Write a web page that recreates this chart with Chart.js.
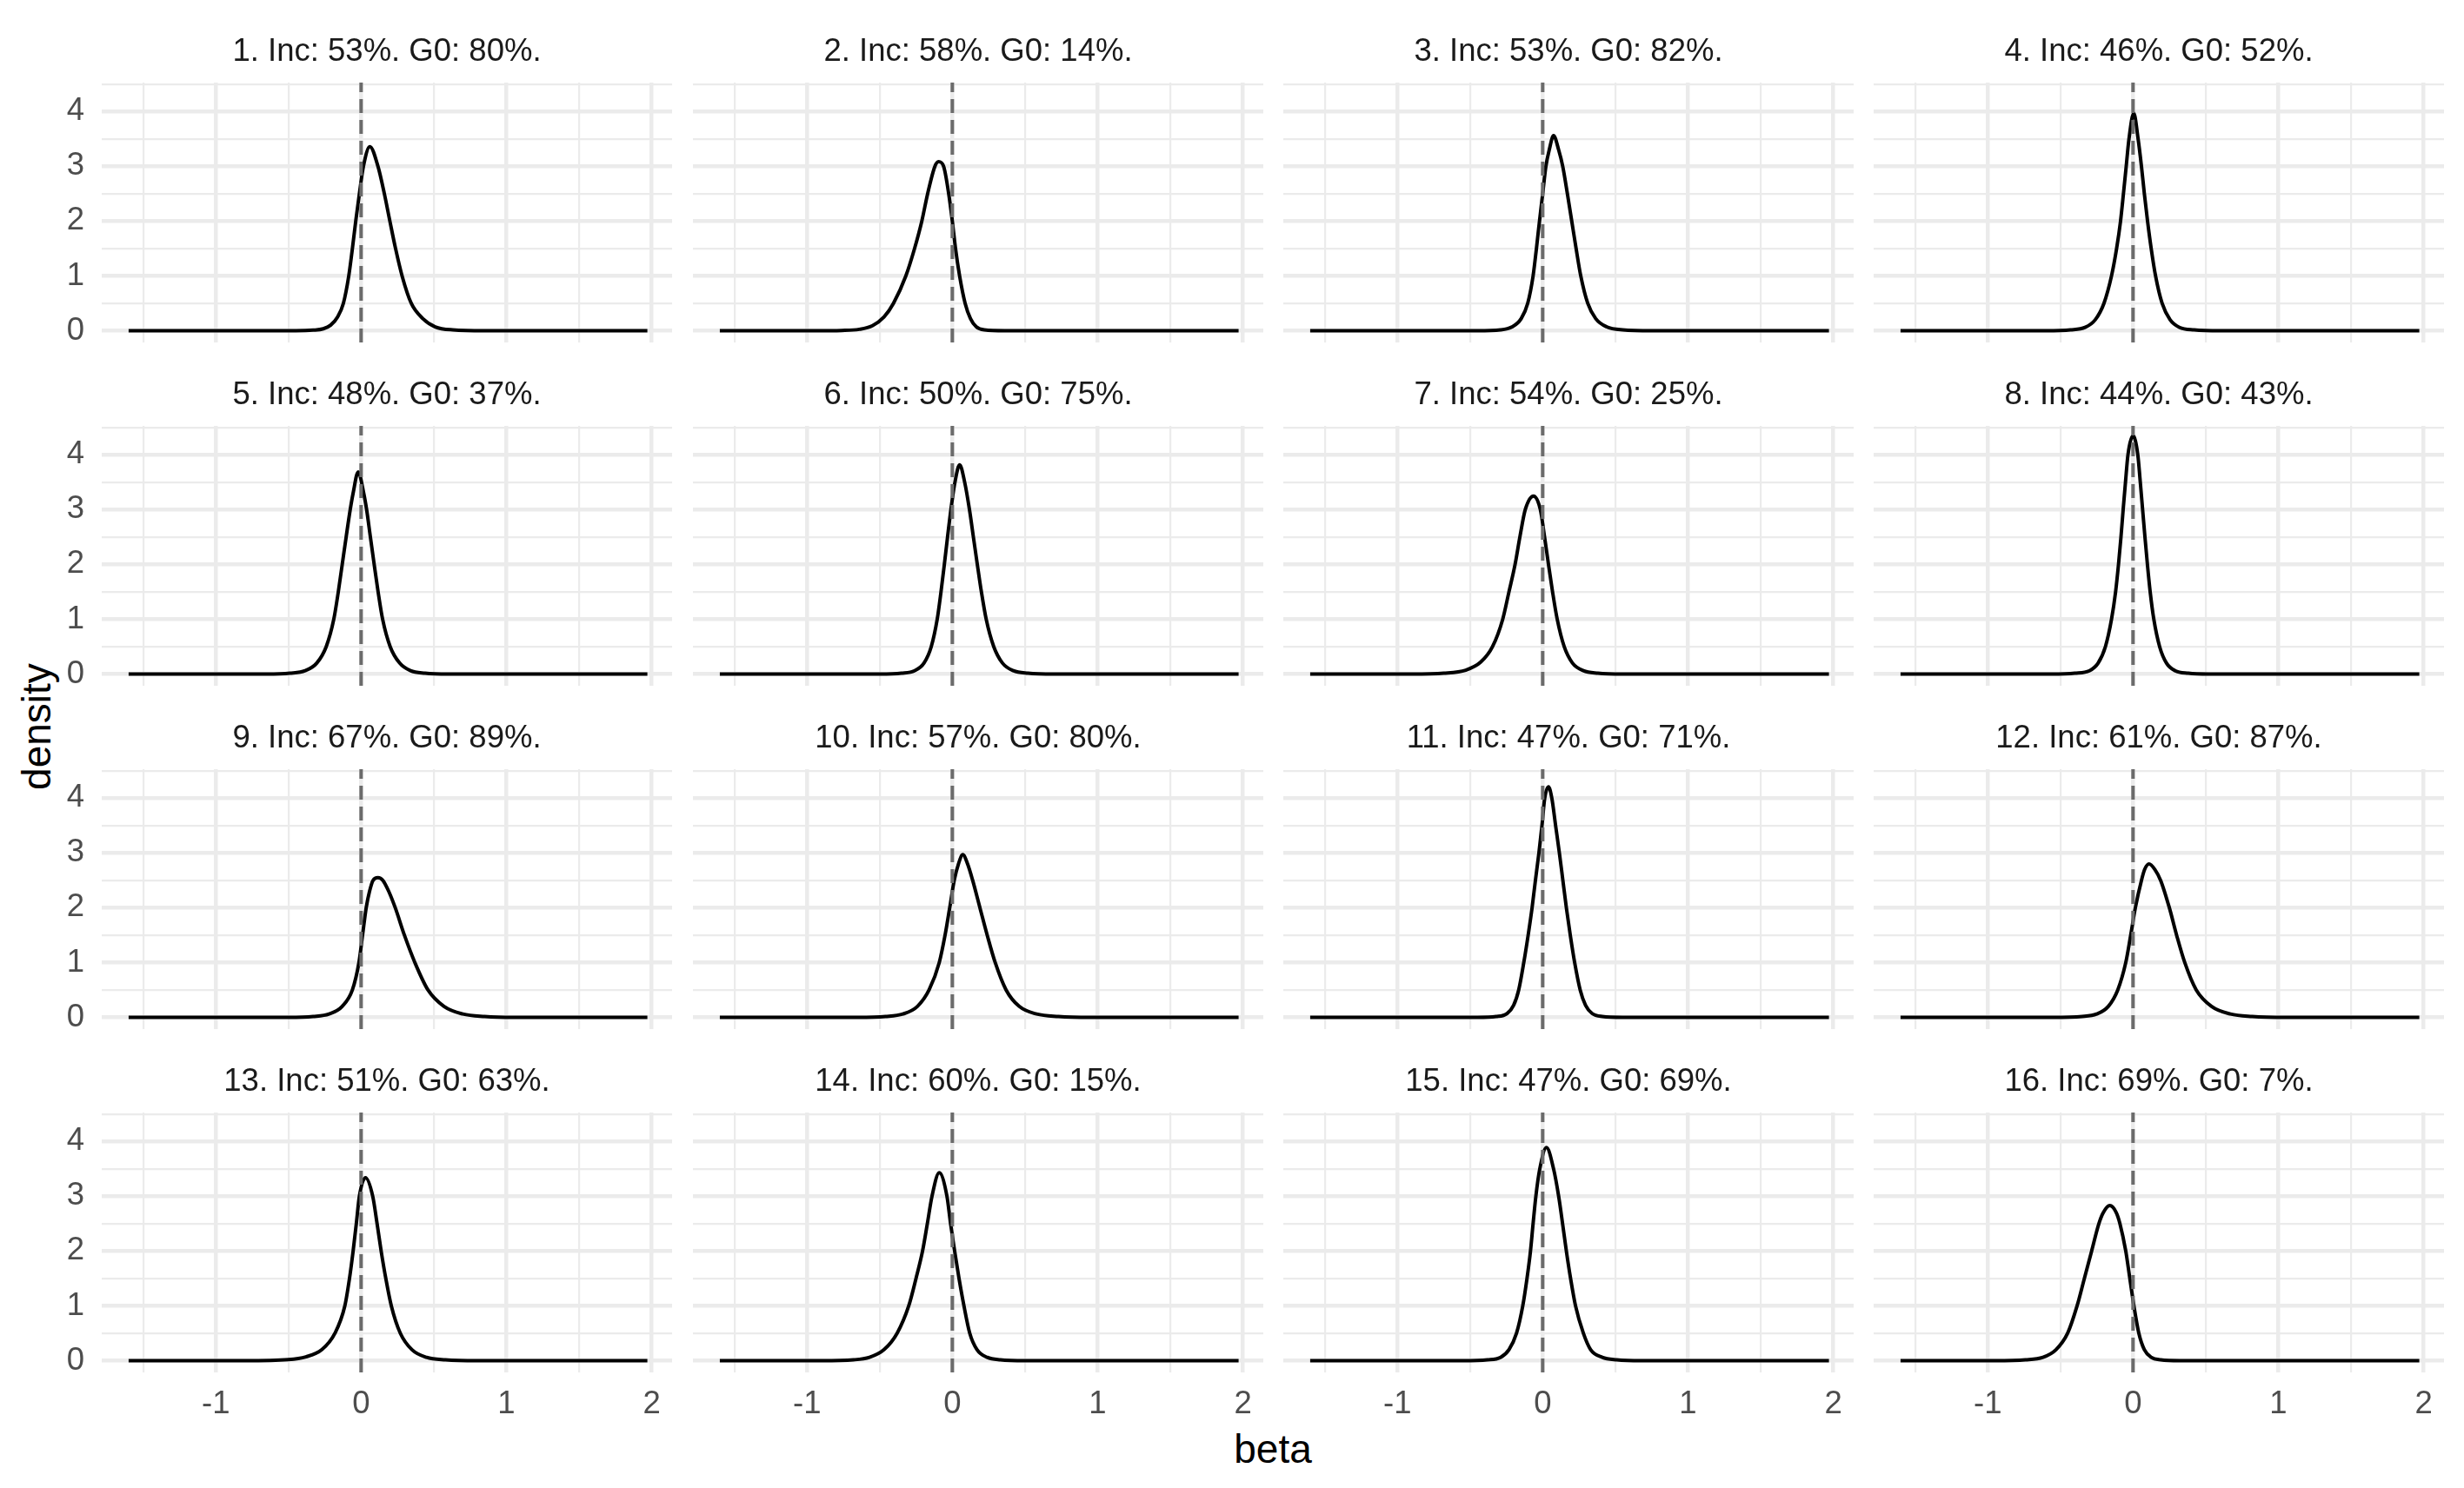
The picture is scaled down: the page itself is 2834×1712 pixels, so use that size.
<!DOCTYPE html>
<html lang="en">
<head>
<meta charset="UTF-8">
<title>Posterior densities of beta</title>
<script src="https://cdn.jsdelivr.net/npm/chart.js"></script>
<style>
  body { margin: 0; background: #fff; }
  #page { position: relative; width: 2834px; height: 1712px; overflow: hidden; font-family: 'Liberation Sans', Arial, sans-serif; }
  #page canvas { position: absolute; }
  .axis-title { position: absolute; font-size: 46px; color: #000; white-space: nowrap; line-height: 1; }
  #xlab { left: 1464px; top: 1667px; transform: translate(-50%, -50%); }
  #ylab { left: 42px; top: 836px; transform: translate(-50%, -50%) rotate(-90deg); }
</style>
</head>
<body>
<div id="page">
  <div class="axis-title" id="xlab">beta</div>
  <div class="axis-title" id="ylab">density</div>
</div>
<script>
// tick labels
const betaTicks = [-1, 0, 1, 2];
const densityTicks = [0, 1, 2, 3, 4];

// panel headers
const incPct = [53, 58, 53, 46, 48, 50, 54, 44, 67, 57, 47, 61, 51, 60, 47, 69];
const g0Pct  = [80, 14, 82, 52, 37, 75, 25, 43, 89, 80, 71, 87, 63, 15, 69, 7];

// density curves, [beta, density]
const curve1 = [[-1.6,0],[-0.45,0],[-0.33,0.01],[-0.26,0.035],[-0.21,0.1],[-0.162,0.25],[-0.122,0.5],[-0.085,1.0],[-0.06,1.5],[-0.037,2.0],[-0.012,2.5],[0.016,3.0],[0.06,3.36],[0.116,3.0],[0.16,2.5],[0.198,2.0],[0.237,1.5],[0.282,1.0],[0.345,0.5],[0.425,0.22],[0.51,0.07],[0.63,0.015],[0.85,0],[1.97,0]];
const curve2 = [[-1.6,0],[-0.95,0],[-0.76,0.005],[-0.64,0.025],[-0.55,0.09],[-0.47,0.25],[-0.405,0.5],[-0.32,1.0],[-0.26,1.5],[-0.21,2.0],[-0.17,2.5],[-0.12,3.0],[-0.095,3.085],[-0.06,3.0],[-0.025,2.5],[0.0,2.0],[0.022,1.5],[0.05,1.0],[0.088,0.5],[0.125,0.22],[0.165,0.07],[0.22,0.015],[0.36,0],[1.97,0]];
const curve3 = [[-1.6,0],[-0.45,0],[-0.29,0.015],[-0.21,0.07],[-0.148,0.22],[-0.103,0.5],[-0.066,1.0],[-0.043,1.5],[-0.022,2.0],[0.0,2.5],[0.022,3.0],[0.045,3.3],[0.075,3.56],[0.11,3.3],[0.138,3.0],[0.17,2.5],[0.2,2.0],[0.23,1.5],[0.262,1.0],[0.31,0.5],[0.365,0.22],[0.44,0.07],[0.55,0.015],[0.75,0],[1.97,0]];
const curve4 = [[-1.6,0],[-0.6,0],[-0.43,0.015],[-0.33,0.06],[-0.26,0.2],[-0.2,0.5],[-0.148,1.0],[-0.113,1.5],[-0.086,2.0],[-0.066,2.5],[-0.047,3.0],[-0.028,3.5],[0.005,3.97],[0.035,3.5],[0.058,3.0],[0.078,2.5],[0.1,2.0],[0.125,1.5],[0.155,1.0],[0.2,0.5],[0.255,0.2],[0.32,0.06],[0.42,0.015],[0.6,0],[1.97,0]];
const curve5 = [[-1.6,0],[-0.65,0],[-0.49,0.015],[-0.385,0.06],[-0.305,0.2],[-0.24,0.5],[-0.188,1.0],[-0.157,1.5],[-0.13,2.0],[-0.103,2.5],[-0.075,3.0],[-0.055,3.3],[-0.02,3.69],[0.018,3.3],[0.038,3.0],[0.064,2.5],[0.09,2.0],[0.117,1.5],[0.148,1.0],[0.2,0.5],[0.265,0.2],[0.34,0.06],[0.44,0.015],[0.6,0],[1.97,0]];
const curve6 = [[-1.6,0],[-0.5,0],[-0.35,0.015],[-0.26,0.06],[-0.195,0.2],[-0.145,0.5],[-0.104,1.0],[-0.078,1.5],[-0.055,2.0],[-0.033,2.5],[-0.01,3.0],[0.018,3.5],[0.05,3.82],[0.085,3.5],[0.118,3.0],[0.145,2.5],[0.172,2.0],[0.2,1.5],[0.233,1.0],[0.285,0.5],[0.345,0.2],[0.42,0.06],[0.52,0.015],[0.7,0],[1.97,0]];
const curve7 = [[-1.6,0],[-0.9,0],[-0.68,0.015],[-0.53,0.07],[-0.425,0.22],[-0.345,0.5],[-0.275,1.0],[-0.232,1.5],[-0.19,2.0],[-0.157,2.5],[-0.12,3.0],[-0.063,3.25],[-0.016,3.0],[0.013,2.5],[0.04,2.0],[0.068,1.5],[0.1,1.0],[0.148,0.5],[0.205,0.2],[0.28,0.06],[0.38,0.015],[0.55,0],[1.97,0]];
const curve8 = [[-1.6,0],[-0.56,0],[-0.4,0.015],[-0.3,0.06],[-0.24,0.2],[-0.19,0.5],[-0.148,1.0],[-0.12,1.5],[-0.1,2.0],[-0.083,2.5],[-0.068,3.0],[-0.052,3.5],[-0.035,4.0],[0.0,4.35],[0.033,4.0],[0.05,3.5],[0.066,3.0],[0.082,2.5],[0.099,2.0],[0.118,1.5],[0.143,1.0],[0.183,0.5],[0.23,0.2],[0.29,0.06],[0.38,0.015],[0.52,0],[1.97,0]];
const curve9 = [[-1.6,0],[-0.5,0],[-0.33,0.015],[-0.22,0.06],[-0.13,0.2],[-0.06,0.5],[-0.015,1.0],[0.01,1.5],[0.035,2.0],[0.058,2.3],[0.082,2.5],[0.116,2.55],[0.15,2.5],[0.19,2.3],[0.235,2.0],[0.298,1.5],[0.37,1.0],[0.46,0.5],[0.57,0.2],[0.7,0.06],[0.85,0.015],[1.05,0],[1.97,0]];
const curve10 = [[-1.6,0],[-0.65,0],[-0.46,0.015],[-0.34,0.06],[-0.24,0.2],[-0.16,0.5],[-0.09,1.0],[-0.05,1.5],[-0.018,2.0],[0.013,2.5],[0.042,2.8],[0.072,2.97],[0.105,2.8],[0.14,2.5],[0.19,2.0],[0.24,1.5],[0.295,1.0],[0.37,0.5],[0.46,0.2],[0.58,0.06],[0.73,0.015],[0.95,0],[1.97,0]];
const curve11 = [[-1.6,0],[-0.45,0],[-0.32,0.015],[-0.245,0.07],[-0.2,0.22],[-0.165,0.5],[-0.13,1.0],[-0.1,1.5],[-0.073,2.0],[-0.05,2.5],[-0.026,3.0],[-0.005,3.5],[0.014,4.0],[0.04,4.21],[0.063,4.0],[0.089,3.5],[0.115,3.0],[0.139,2.5],[0.163,2.0],[0.19,1.5],[0.22,1.0],[0.258,0.5],[0.295,0.22],[0.34,0.07],[0.41,0.015],[0.55,0],[1.97,0]];
const curve12 = [[-1.6,0],[-0.55,0],[-0.35,0.015],[-0.25,0.06],[-0.17,0.2],[-0.105,0.5],[-0.05,1.0],[-0.016,1.5],[0.016,2.0],[0.058,2.5],[0.08,2.7],[0.11,2.8],[0.15,2.7],[0.19,2.5],[0.25,2.0],[0.3,1.5],[0.356,1.0],[0.435,0.5],[0.54,0.2],[0.67,0.06],[0.82,0.015],[1.05,0],[1.97,0]];
const curve13 = [[-1.6,0],[-0.8,0],[-0.5,0.02],[-0.38,0.07],[-0.27,0.2],[-0.18,0.5],[-0.112,1.0],[-0.08,1.5],[-0.055,2.0],[-0.033,2.5],[-0.012,3.0],[0.03,3.34],[0.08,3.0],[0.11,2.5],[0.138,2.0],[0.17,1.5],[0.208,1.0],[0.27,0.5],[0.35,0.2],[0.45,0.06],[0.58,0.015],[0.8,0],[1.97,0]];
const curve14 = [[-1.6,0],[-0.9,0],[-0.68,0.015],[-0.57,0.06],[-0.47,0.2],[-0.38,0.5],[-0.3,1.0],[-0.25,1.5],[-0.205,2.0],[-0.172,2.5],[-0.14,3.0],[-0.09,3.43],[-0.037,3.0],[-0.012,2.5],[0.016,2.0],[0.046,1.5],[0.08,1.0],[0.12,0.5],[0.17,0.2],[0.24,0.06],[0.33,0.015],[0.5,0],[1.97,0]];
const curve15 = [[-1.6,0],[-0.55,0],[-0.38,0.015],[-0.29,0.06],[-0.232,0.2],[-0.18,0.5],[-0.137,1.0],[-0.108,1.5],[-0.084,2.0],[-0.066,2.5],[-0.047,3.0],[-0.02,3.5],[0.026,3.89],[0.075,3.5],[0.11,3.0],[0.137,2.5],[0.163,2.0],[0.192,1.5],[0.226,1.0],[0.28,0.5],[0.33,0.2],[0.41,0.06],[0.51,0.015],[0.68,0],[1.97,0]];
const curve16 = [[-1.6,0],[-0.95,0],[-0.74,0.015],[-0.62,0.06],[-0.53,0.2],[-0.45,0.5],[-0.385,1.0],[-0.335,1.5],[-0.285,2.0],[-0.235,2.5],[-0.205,2.7],[-0.16,2.83],[-0.115,2.7],[-0.09,2.5],[-0.05,2.0],[-0.022,1.5],[0.006,1.0],[0.04,0.5],[0.078,0.2],[0.125,0.06],[0.19,0.015],[0.32,0],[1.97,0]];

const curves = [curve1, curve2, curve3, curve4, curve5, curve6, curve7, curve8,
                curve9, curve10, curve11, curve12, curve13, curve14, curve15, curve16];

// shared axis limits (ggplot's 5% expansion)
const xLim = [-1.785, 2.14];
const yLim = [-0.215, 4.53];

// facet geometry, page pixels
const colLeft = [117, 797, 1476, 2155];
const rowTop = [95, 490, 885, 1280];
const plotW = 656, plotH = 299;
const titleH = 94, yAxisW = 117, xAxisH = 70;

Chart.defaults.font.family = "'Liberation Sans', Arial, sans-serif";
Chart.defaults.animation = false;

const page = document.getElementById('page');
const isWhole = v => Math.abs(v - Math.round(v)) < 1e-9;
const gridWidth = c => isWhole(c.tick.value) ? 4.5 : 2.2;

function makePanel(k) {
	const col = k % 4, row = Math.floor(k / 4);
	const yW = col === 0 ? yAxisW : 0;
	const xH = row === 3 ? xAxisH : 0;
	const w = yW + plotW, h = titleH + plotH + xH;

	const canvas = document.createElement('canvas');
	canvas.width = w;
	canvas.height = h;
	canvas.style.left = (colLeft[col] - yW) + 'px';
	canvas.style.top = (rowTop[row] - titleH) + 'px';
	canvas.style.width = w + 'px';
	canvas.style.height = h + 'px';
	page.appendChild(canvas);

	new Chart(canvas, {
		type: 'line',
		data: {
			datasets: [
				{   // dashed reference line at beta = 0
					data: [{x: 0, y: yLim[0]}, {x: 0, y: yLim[1]}],
					borderColor: '#6b6b6b',
					borderWidth: 4,
					borderDash: [16, 8],
					pointRadius: 0
				},
				{
					data: curves[k].map(p => ({x: p[0], y: p[1]})),
					borderColor: '#000',
					borderWidth: 4,
					pointRadius: 0,
					cubicInterpolationMode: 'monotone'
				}
			]
		},
		options: {
			responsive: false,
			layout: { padding: 0 },
			plugins: {
				legend: { display: false },
				tooltip: { enabled: false },
				title: {
					display: true,
					fullSize: false,
					text: (k + 1) + '. Inc: ' + incPct[k] + '%. G0: ' + g0Pct[k] + '%.',
					color: '#1a1a1a',
					font: { size: 36.5, weight: 'normal', lineHeight: 1.2 },
					padding: { top: 37, bottom: 13.2 }
				}
			},
			scales: {
				x: {
					type: 'linear',
					min: xLim[0],
					max: xLim[1],
					border: { display: false },
					grid: { color: '#ebebeb', lineWidth: gridWidth, drawTicks: false },
					ticks: {
						display: row === 3,
						stepSize: 0.5,
						includeBounds: false,
						maxTicksLimit: 20,
						autoSkip: false,
						maxRotation: 0,
						padding: 15,
						color: '#4d4d4d',
						font: { size: 36.5 },
						callback: v => isWhole(v) && betaTicks.includes(Math.round(v)) ? String(Math.round(v)) : ''
					},
					afterFit: s => { s.height = xH; s.paddingLeft = 0; s.paddingRight = 0; }
				},
				y: {
					type: 'linear',
					min: yLim[0],
					max: yLim[1],
					border: { display: false },
					grid: { color: '#ebebeb', lineWidth: gridWidth, drawTicks: false },
					ticks: {
						display: col === 0,
						stepSize: 0.5,
						includeBounds: false,
						maxTicksLimit: 20,
						autoSkip: false,
						padding: 20,
						color: '#4d4d4d',
						font: { size: 36.5 },
						callback: v => isWhole(v) && densityTicks.includes(Math.round(v)) ? String(Math.round(v)) : ''
					},
					afterFit: s => { s.width = yW; s.paddingTop = 0; s.paddingBottom = 0; }
				}
			}
		}
	});
}

for (let k = 0; k < 16; k++) makePanel(k);
</script>
</body>
</html>
